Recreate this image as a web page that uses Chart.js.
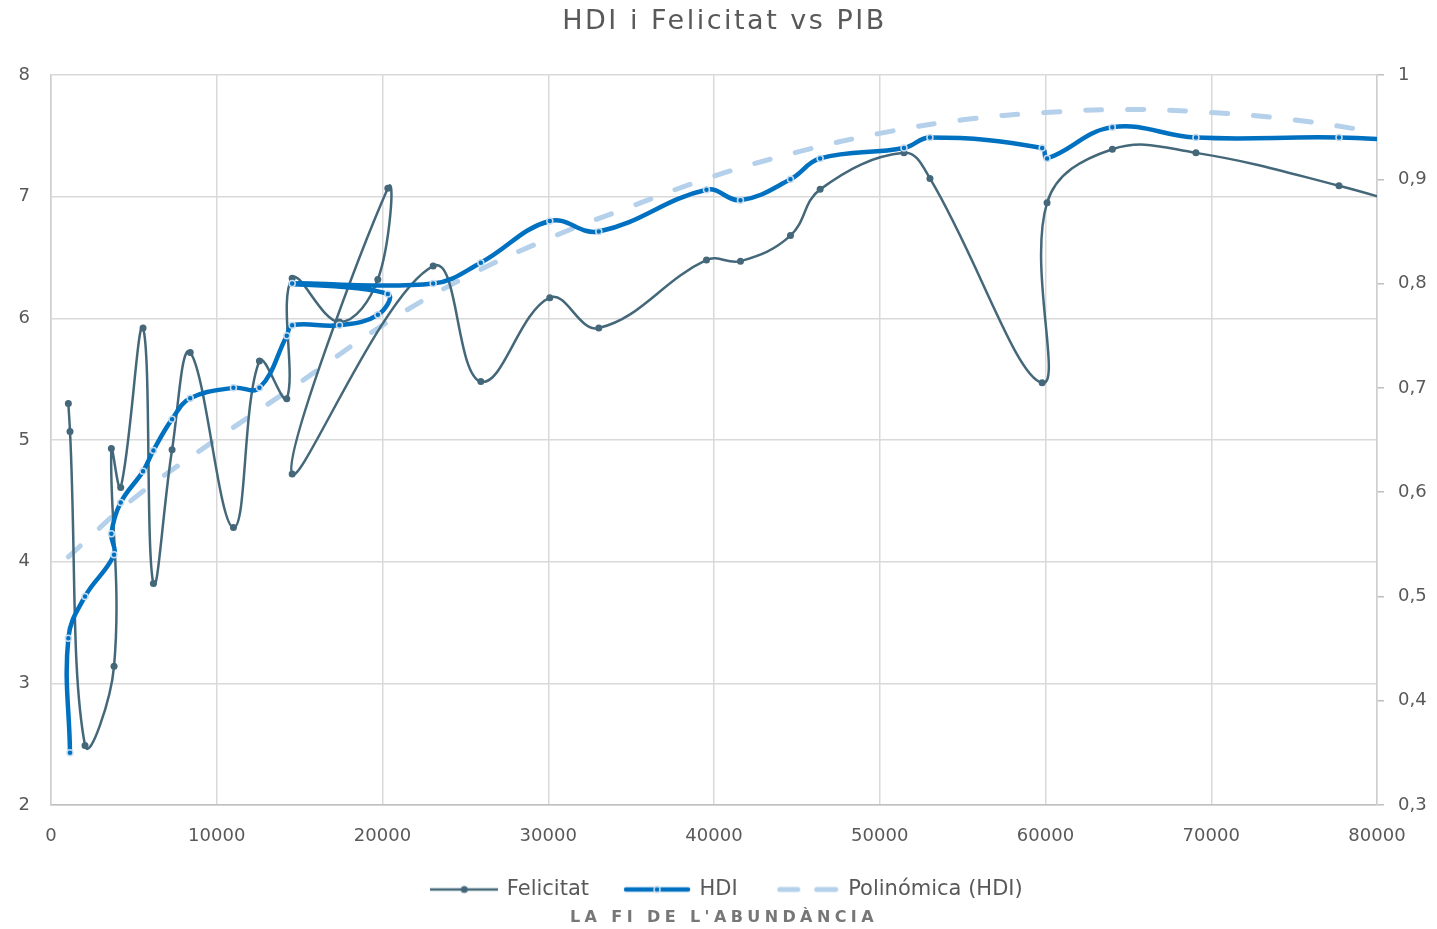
<!DOCTYPE html>
<html lang="ca">
<head>
<meta charset="utf-8">
<title>HDI i Felicitat vs PIB</title>
<script src="https://cdn.jsdelivr.net/npm/chart.js@4.4.1/dist/chart.umd.min.js"></script>
<style>
  html, body { margin: 0; padding: 0; background: #ffffff; }
  .wrap { position: relative; width: 1437px; height: 929px; }
  .title {
    position: absolute;
    left: 0;
    right: 0;
    top: 4px;
    height: 42px;
    line-height: 42px;
    padding-left: 12px;
    text-align: center;
    font: 400 27px "DejaVu Sans", sans-serif;
    letter-spacing: 2.5px;
    color: #595959;
  }
  .source {
    position: absolute;
    left: 0;
    right: 0;
    top: 907px;
    padding-left: 11px;
    text-align: center;
    font: 700 16px "DejaVu Sans", sans-serif;
    letter-spacing: 4.4px;
    color: #777777;
  }
</style>
</head>
<body>
<div class="wrap">
  <canvas id="chart" width="1437" height="929"></canvas>
  <div class="title">HDI i Felicitat vs PIB</div>
  <div class="source">LA FI DE L'ABUNDÀNCIA</div>
</div>
<script>
const felicitatPib = [1046, 1147, 2052, 3803, 3642, 4205, 5553, 6177, 7304, 8400, 11006, 12575, 14225, 14550, 17404, 19718, 20322, 14550, 23057, 25932, 30094, 33050, 39546, 41597, 44613, 46403, 51463, 53028, 59798, 60094, 64032, 69076, 77707, 84000];
const felicitat = [5.30, 5.07, 2.49, 3.14, 4.93, 4.61, 5.92, 3.82, 4.92, 5.72, 4.28, 5.65, 5.34, 6.33, 5.97, 6.32, 7.07, 4.72, 6.43, 5.48, 6.17, 5.92, 6.48, 6.47, 6.68, 7.06, 7.36, 7.15, 5.47, 6.95, 7.39, 7.36, 7.09, 6.84];

const hdiPib = [1147, 1046, 2052, 3803, 3642, 4205, 5553, 6177, 7304, 8400, 11006, 12575, 14225, 14550, 17404, 19718, 20322, 14550, 23057, 25932, 30094, 33050, 39546, 41597, 44613, 46403, 51463, 53028, 59798, 60094, 64032, 69076, 77707, 84000];
const hdi = [0.35, 0.46, 0.50, 0.54, 0.56, 0.59, 0.62, 0.64, 0.67, 0.69, 0.70, 0.70, 0.75, 0.76, 0.76, 0.77, 0.79, 0.80, 0.80, 0.82, 0.86, 0.85, 0.89, 0.88, 0.90, 0.92, 0.93, 0.94, 0.93, 0.92, 0.95, 0.94, 0.94, 0.935];

const trendPib = [1046, 5000, 10000, 15000, 20000, 25000, 30000, 35000, 40000, 45000, 50000, 55000, 60000, 65000, 70000, 75000, 80000, 84000];
const trendHdi = [0.538, 0.594, 0.651, 0.705, 0.760, 0.806, 0.843, 0.874, 0.903, 0.926, 0.944, 0.957, 0.964, 0.967, 0.964, 0.957, 0.945, 0.934];

const fontFamily = '"DejaVu Sans", sans-serif';
const textColor = "#595959";
const gridColor = "#d9d9d9";
const felicitatColor = "#44687a";
const hdiColor = "#0070c0";
const hdiRing = "#c6dcf1";
const trendColor = "#b4d0ea";

function toPoints(xs, ys) {
  return xs.map((x, i) => ({ x, y: ys[i] }));
}

function makeMarker(kind) {
  const c = document.createElement("canvas");
  c.width = 68;
  c.height = 14;
  const ctx = c.getContext("2d");
  const mid = 7;

  if (kind === "felicitat") {
    ctx.strokeStyle = felicitatColor;
    ctx.lineWidth = 2.5;
    ctx.beginPath();
    ctx.moveTo(0, mid);
    ctx.lineTo(68, mid);
    ctx.stroke();
    ctx.fillStyle = felicitatColor;
    ctx.beginPath();
    ctx.arc(34, mid, 3.5, 0, Math.PI * 2);
    ctx.fill();
  } else if (kind === "hdi") {
    ctx.strokeStyle = hdiColor;
    ctx.lineWidth = 4.5;
    ctx.lineCap = "round";
    ctx.beginPath();
    ctx.moveTo(3, mid);
    ctx.lineTo(65, mid);
    ctx.stroke();
    ctx.fillStyle = hdiColor;
    ctx.strokeStyle = hdiRing;
    ctx.lineWidth = 1.5;
    ctx.beginPath();
    ctx.arc(34, mid, 3, 0, Math.PI * 2);
    ctx.fill();
    ctx.stroke();
  } else {
    ctx.strokeStyle = trendColor;
    ctx.lineWidth = 5;
    ctx.lineCap = "round";
    ctx.beginPath();
    ctx.moveTo(8, mid);
    ctx.lineTo(26, mid);
    ctx.moveTo(45, mid);
    ctx.lineTo(64, mid);
    ctx.stroke();
  }
  return c;
}

const markers = [makeMarker("felicitat"), makeMarker("hdi"), makeMarker("trend")];

function formatComma(v) {
  if (Math.abs(v - 1) < 1e-9) return "1";
  return v.toFixed(1).replace(".", ",");
}

// nudge the legend row a little to the right, like the original
const legendShift = {
  id: "legendShift",
  afterLayout(chart) {
    chart.legend.left += 9;
    chart.legend.right += 9;
  },
};

new Chart(document.getElementById("chart"), {
  type: "scatter",
  data: {
    datasets: [
      {
        label: "Felicitat",
        data: toPoints(felicitatPib, felicitat),
        yAxisID: "y",
        showLine: true,
        tension: 0.4,
        borderColor: felicitatColor,
        borderWidth: 2.5,
        pointRadius: 3.5,
        pointBackgroundColor: felicitatColor,
        pointBorderWidth: 0,
        order: 1,
      },
      {
        label: "HDI",
        data: toPoints(hdiPib, hdi),
        yAxisID: "y1",
        showLine: true,
        tension: 0.4,
        borderColor: hdiColor,
        borderWidth: 4.5,
        pointRadius: 3,
        pointBackgroundColor: hdiColor,
        pointBorderColor: hdiRing,
        pointBorderWidth: 1.5,
        order: 0,
      },
      {
        label: "Polinómica (HDI)",
        data: toPoints(trendPib, trendHdi),
        yAxisID: "y1",
        showLine: true,
        tension: 0.4,
        borderColor: trendColor,
        borderWidth: 5,
        borderDash: [16, 26],
        borderCapStyle: "round",
        pointRadius: 0,
        order: 2,
      },
    ],
  },
  options: {
    responsive: false,
    animation: false,
    layout: { padding: { top: 75, bottom: 19 } },
    plugins: {
      title: { display: false },
      legend: {
        position: "bottom",
        labels: {
          usePointStyle: true,
          pointStyleWidth: 64,
          padding: 36,
          color: textColor,
          font: { family: fontFamily, size: 21 },
          sort: (a, b) => a.datasetIndex - b.datasetIndex,
          generateLabels(chart) {
            const items = Chart.defaults.plugins.legend.labels.generateLabels(chart);
            return items.map(item => ({ ...item, pointStyle: markers[item.datasetIndex] }));
          },
        },
      },
      tooltip: { enabled: false },
    },
    scales: {
      x: {
        type: "linear",
        position: "bottom",
        min: 0,
        max: 80000,
        ticks: {
          stepSize: 10000,
          color: textColor,
          font: { family: fontFamily, size: 18 },
          padding: 21,
          maxRotation: 0,
          callback: v => String(v),
        },
        grid: { color: gridColor, lineWidth: 1.5, drawTicks: false },
        border: { color: "#bfbfbf", width: 1.5 },
        afterFit: scale => { scale.height = 38; },
      },
      y: {
        position: "left",
        min: 2,
        max: 8,
        ticks: {
          stepSize: 1,
          color: textColor,
          font: { family: fontFamily, size: 18 },
          padding: 21,
        },
        grid: { color: gridColor, lineWidth: 1.5, drawTicks: false },
        border: { color: "#cfcfcf", width: 1.5 },
        afterFit: scale => { scale.width = 51; },
      },
      y1: {
        position: "right",
        min: 0.3,
        max: 1,
        ticks: {
          stepSize: 0.1,
          color: textColor,
          font: { family: fontFamily, size: 18 },
          padding: 14,
          callback: v => formatComma(v),
        },
        grid: { drawOnChartArea: false, tickLength: 7, color: "#bfbfbf", lineWidth: 1.5 },
        border: { color: "#cfcfcf", width: 1.5 },
        afterFit: scale => { scale.width = 60; },
      },
    },
  },
  plugins: [legendShift],
});
</script>
</body>
</html>
